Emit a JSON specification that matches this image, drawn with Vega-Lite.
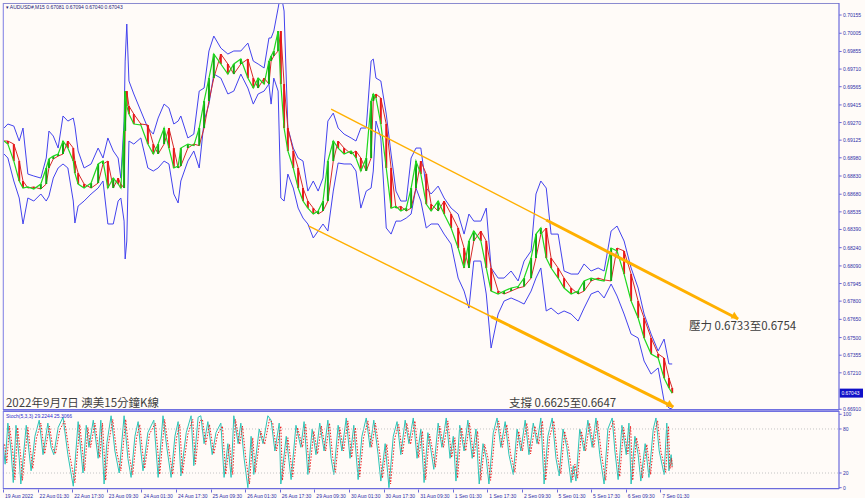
{
  "$schema": "https://vega.github.io/schema/vega-lite/v6.json",
  "background": "#FFFBF8",
  "padding": {"left": 2, "top": 2, "right": 2, "bottom": 0},
  "bounds": "flush",
  "spacing": 1,
  "config": {
    "view": {"stroke": null, "fill": "#FFFBF8"},
    "axis": {"labelFont": "Liberation Sans", "labelFontSize": 5, "labelColor": "#2e2ea8", "tickColor": "#6b6bdc", "domainColor": "#6b6bdc", "tickSize": 3, "labelPadding": 1.5, "grid": false},
    "text": {"font": "Liberation Sans"}
  },
  "datasets": {
    "one": [{"a": 1}],
    "price": [
      {"i":2,"o":0.69118,"c":0.69118,"u":0.69225,"l":0.69011},
      {"i":9,"o":0.69118,"c":0.69093,"u":0.69258,"l":0.68978},
      {"i":20,"o":0.69093,"c":0.68953,"u":0.69241,"l":0.68789},
      {"i":30,"o":0.68953,"c":0.68789,"u":0.69118,"l":0.68649},
      {"i":37,"o":0.68789,"c":0.68731,"u":0.69225,"l":0.68435},
      {"i":46,"o":0.68731,"c":0.68740,"u":0.68846,"l":0.68649},
      {"i":57,"o":0.68740,"c":0.68723,"u":0.68830,"l":0.68624},
      {"i":70,"o":0.68723,"c":0.68764,"u":0.68813,"l":0.68682},
      {"i":80,"o":0.68764,"c":0.68896,"u":0.68978,"l":0.68624},
      {"i":85,"o":0.68896,"c":0.68970,"u":0.69200,"l":0.68665},
      {"i":93,"o":0.68970,"c":0.68994,"u":0.69159,"l":0.68813},
      {"i":102,"o":0.68994,"c":0.69011,"u":0.69060,"l":0.68896},
      {"i":111,"o":0.69011,"c":0.69118,"u":0.69324,"l":0.68929},
      {"i":120,"o":0.69118,"c":0.69060,"u":0.69282,"l":0.68896},
      {"i":130,"o":0.69060,"c":0.68953,"u":0.69307,"l":0.68624},
      {"i":133,"o":0.68953,"c":0.68854,"u":0.69241,"l":0.68443},
      {"i":139,"o":0.68854,"c":0.68764,"u":0.69036,"l":0.68583},
      {"i":150,"o":0.68764,"c":0.68731,"u":0.68896,"l":0.68624},
      {"i":163,"o":0.68731,"c":0.68772,"u":0.68929,"l":0.68682},
      {"i":176,"o":0.68772,"c":0.68929,"u":0.69060,"l":0.68731},
      {"i":185,"o":0.68929,"c":0.68953,"u":0.68978,"l":0.68789},
      {"i":194,"o":0.68953,"c":0.68731,"u":0.69143,"l":0.68435},
      {"i":204,"o":0.68731,"c":0.68813,"u":0.69036,"l":0.68435},
      {"i":213,"o":0.68813,"c":0.68764,"u":0.68978,"l":0.68624},
      {"i":218,"o":0.68764,"c":0.68731,"u":0.68813,"l":0.68649},
      {"i":224,"o":0.68731,"c":0.69200,"u":0.69282,"l":0.68459},
      {"i":226,"o":0.69200,"c":0.69529,"u":0.69776,"l":0.68147},
      {"i":229,"o":0.69529,"c":0.69406,"u":0.70081,"l":0.68295},
      {"i":233,"o":0.69406,"c":0.69340,"u":0.69612,"l":0.69118},
      {"i":242,"o":0.69340,"c":0.69258,"u":0.69505,"l":0.69093},
      {"i":255,"o":0.69258,"c":0.69250,"u":0.69365,"l":0.69143},
      {"i":268,"o":0.69250,"c":0.69093,"u":0.69225,"l":0.68896},
      {"i":278,"o":0.69093,"c":0.69011,"u":0.69175,"l":0.68871},
      {"i":287,"o":0.69011,"c":0.69093,"u":0.69307,"l":0.68896},
      {"i":298,"o":0.69093,"c":0.69225,"u":0.69422,"l":0.68953},
      {"i":307,"o":0.69225,"c":0.69060,"u":0.69389,"l":0.68929},
      {"i":316,"o":0.69060,"c":0.68896,"u":0.69258,"l":0.68682},
      {"i":324,"o":0.68896,"c":0.68912,"u":0.69282,"l":0.68608},
      {"i":329,"o":0.68912,"c":0.69060,"u":0.69324,"l":0.68789},
      {"i":342,"o":0.69060,"c":0.69093,"u":0.69143,"l":0.68953},
      {"i":353,"o":0.69093,"c":0.69080,"u":0.69175,"l":0.69036},
      {"i":363,"o":0.69080,"c":0.69225,"u":0.69529,"l":0.68896},
      {"i":372,"o":0.69225,"c":0.69447,"u":0.69554,"l":0.69282},
      {"i":381,"o":0.69447,"c":0.69636,"u":0.69859,"l":0.69422},
      {"i":390,"o":0.69636,"c":0.69834,"u":0.69982,"l":0.69669},
      {"i":403,"o":0.69834,"c":0.69752,"u":0.69883,"l":0.69636},
      {"i":416,"o":0.69752,"c":0.69669,"u":0.69834,"l":0.69505},
      {"i":427,"o":0.69669,"c":0.69752,"u":0.69859,"l":0.69529},
      {"i":440,"o":0.69752,"c":0.69793,"u":0.69859,"l":0.69669},
      {"i":453,"o":0.69793,"c":0.69636,"u":0.69924,"l":0.69554},
      {"i":463,"o":0.69636,"c":0.69554,"u":0.69776,"l":0.69422},
      {"i":472,"o":0.69554,"c":0.69636,"u":0.69752,"l":0.69505},
      {"i":483,"o":0.69636,"c":0.69587,"u":0.69719,"l":0.69529},
      {"i":492,"o":0.69587,"c":0.69776,"u":0.69966,"l":0.69587},
      {"i":496,"o":0.69776,"c":0.69817,"u":0.69966,"l":0.69422},
      {"i":501,"o":0.69817,"c":0.69859,"u":0.70023,"l":0.69636},
      {"i":509,"o":0.69859,"c":0.70023,"u":0.70212,"l":0.69529},
      {"i":514,"o":0.70023,"c":0.69587,"u":0.70336,"l":0.68649},
      {"i":520,"o":0.69587,"c":0.69225,"u":0.70188,"l":0.68624},
      {"i":527,"o":0.69225,"c":0.69036,"u":0.69225,"l":0.68846},
      {"i":537,"o":0.69036,"c":0.68896,"u":0.69060,"l":0.68731},
      {"i":546,"o":0.68896,"c":0.68731,"u":0.68978,"l":0.68566},
      {"i":555,"o":0.68731,"c":0.68624,"u":0.68953,"l":0.68484},
      {"i":564,"o":0.68624,"c":0.68566,"u":0.68706,"l":0.68435},
      {"i":574,"o":0.68566,"c":0.68517,"u":0.68789,"l":0.68320},
      {"i":583,"o":0.68517,"c":0.68542,"u":0.68706,"l":0.68377},
      {"i":592,"o":0.68542,"c":0.68624,"u":0.68813,"l":0.68435},
      {"i":601,"o":0.68624,"c":0.68953,"u":0.69282,"l":0.68377},
      {"i":611,"o":0.68953,"c":0.69118,"u":0.69348,"l":0.68706},
      {"i":620,"o":0.69118,"c":0.69060,"u":0.69225,"l":0.68937},
      {"i":631,"o":0.69060,"c":0.69011,"u":0.69175,"l":0.68929},
      {"i":644,"o":0.69011,"c":0.69036,"u":0.69143,"l":0.68929},
      {"i":653,"o":0.69036,"c":0.68978,"u":0.69118,"l":0.68871},
      {"i":662,"o":0.68978,"c":0.68871,"u":0.69225,"l":0.68566},
      {"i":672,"o":0.68871,"c":0.68978,"u":0.69225,"l":0.68706},
      {"i":681,"o":0.68978,"c":0.69447,"u":0.69776,"l":0.68731},
      {"i":685,"o":0.69447,"c":0.69505,"u":0.69793,"l":0.68871},
      {"i":690,"o":0.69505,"c":0.69472,"u":0.69636,"l":0.69282},
      {"i":699,"o":0.69472,"c":0.69258,"u":0.69612,"l":0.69143},
      {"i":709,"o":0.69258,"c":0.68896,"u":0.69340,"l":0.68402},
      {"i":718,"o":0.68896,"c":0.68566,"u":0.69011,"l":0.68352},
      {"i":727,"o":0.68566,"c":0.68580,"u":0.68706,"l":0.68459},
      {"i":736,"o":0.68580,"c":0.68542,"u":0.68624,"l":0.68459},
      {"i":746,"o":0.68542,"c":0.68566,"u":0.68624,"l":0.68484},
      {"i":755,"o":0.68566,"c":0.68731,"u":0.68978,"l":0.68517},
      {"i":764,"o":0.68731,"c":0.68953,"u":0.69060,"l":0.68731},
      {"i":773,"o":0.68953,"c":0.68846,"u":0.69060,"l":0.68624},
      {"i":783,"o":0.68846,"c":0.68599,"u":0.68731,"l":0.68402},
      {"i":792,"o":0.68599,"c":0.68542,"u":0.68682,"l":0.68435},
      {"i":805,"o":0.68542,"c":0.68624,"u":0.68747,"l":0.68435},
      {"i":816,"o":0.68624,"c":0.68517,"u":0.68649,"l":0.68352},
      {"i":829,"o":0.68517,"c":0.68402,"u":0.68566,"l":0.68270},
      {"i":842,"o":0.68402,"c":0.68237,"u":0.68517,"l":0.67990},
      {"i":853,"o":0.68237,"c":0.68073,"u":0.68352,"l":0.67883},
      {"i":862,"o":0.68073,"c":0.68295,"u":0.68517,"l":0.67743},
      {"i":871,"o":0.68295,"c":0.68377,"u":0.68459,"l":0.68130},
      {"i":884,"o":0.68377,"c":0.68295,"u":0.68459,"l":0.68130},
      {"i":894,"o":0.68295,"c":0.68073,"u":0.68566,"l":0.67859},
      {"i":903,"o":0.68073,"c":0.67883,"u":0.68073,"l":0.67414},
      {"i":916,"o":0.67883,"c":0.67859,"u":0.67990,"l":0.67694},
      {"i":927,"o":0.67859,"c":0.67883,"u":0.67990,"l":0.67801},
      {"i":940,"o":0.67883,"c":0.67908,"u":0.68048,"l":0.67826},
      {"i":953,"o":0.67908,"c":0.67920,"u":0.67966,"l":0.67801},
      {"i":964,"o":0.67920,"c":0.67990,"u":0.68130,"l":0.67776},
      {"i":977,"o":0.67990,"c":0.68155,"u":0.68213,"l":0.67883},
      {"i":986,"o":0.68155,"c":0.68352,"u":0.68682,"l":0.67990},
      {"i":995,"o":0.68352,"c":0.68402,"u":0.68789,"l":0.68073},
      {"i":1005,"o":0.68402,"c":0.68155,"u":0.68731,"l":0.67719},
      {"i":1014,"o":0.68155,"c":0.68073,"u":0.68352,"l":0.67743},
      {"i":1027,"o":0.68073,"c":0.67990,"u":0.68352,"l":0.67694},
      {"i":1038,"o":0.67990,"c":0.67908,"u":0.68048,"l":0.67719},
      {"i":1051,"o":0.67908,"c":0.67859,"u":0.68023,"l":0.67694},
      {"i":1064,"o":0.67859,"c":0.67883,"u":0.68023,"l":0.67636},
      {"i":1075,"o":0.67883,"c":0.67966,"u":0.68106,"l":0.67743},
      {"i":1088,"o":0.67966,"c":0.67990,"u":0.68048,"l":0.67859},
      {"i":1101,"o":0.67990,"c":0.67975,"u":0.68073,"l":0.67883},
      {"i":1112,"o":0.67975,"c":0.67966,"u":0.68048,"l":0.67826},
      {"i":1125,"o":0.67966,"c":0.68237,"u":0.68377,"l":0.67941},
      {"i":1136,"o":0.68237,"c":0.68213,"u":0.68418,"l":0.67842},
      {"i":1149,"o":0.68213,"c":0.68023,"u":0.68295,"l":0.67694},
      {"i":1162,"o":0.68023,"c":0.67801,"u":0.68073,"l":0.67529},
      {"i":1175,"o":0.67801,"c":0.67661,"u":0.67908,"l":0.67497},
      {"i":1186,"o":0.67661,"c":0.67497,"u":0.67694,"l":0.67307},
      {"i":1199,"o":0.67497,"c":0.67365,"u":0.67529,"l":0.67200},
      {"i":1212,"o":0.67365,"c":0.67332,"u":0.67390,"l":0.67250},
      {"i":1223,"o":0.67332,"c":0.67167,"u":0.67488,"l":0.66978},
      {"i":1232,"o":0.67167,"c":0.67085,"u":0.67283,"l":0.66920},
      {"i":1238,"o":0.67085,"c":0.67043,"u":0.67283,"l":0.66912}
    ],
    "priceTicks": [
      {"p":0.70155},{"p":0.70005},{"p":0.69855},{"p":0.69710},{"p":0.69565},{"p":0.69415},{"p":0.69270},{"p":0.69125},
      {"p":0.68980},{"p":0.68830},{"p":0.68680},{"p":0.68535},{"p":0.68390},{"p":0.68240},{"p":0.68090},{"p":0.67945},
      {"p":0.67800},{"p":0.67650},{"p":0.67500},{"p":0.67355},{"p":0.67210},{"p":0.66910}
    ],
    "stochTicks": [{"v":0},{"v":20},{"v":80},{"v":100}],
    "trend": [
      {"g":"up","i":607,"p":0.69381},{"g":"up","i":1360,"p":0.67653},
      {"g":"lo","i":566,"p":0.68418},{"g":"lo","i":1240,"p":0.66929}
    ],
    "trendThick": [
      {"g":"up","i":1005,"p":0.68468},{"g":"up","i":1360,"p":0.67653},
      {"g":"lo","i":903,"p":0.67673},{"g":"lo","i":1240,"p":0.66929}
    ],
    "stoch": [
      {"i":0,"k":60,"di":3,"d":59},{"i":4,"k":32,"di":7,"d":34},{"i":9,"k":88,"di":12,"d":84},{"i":15,"k":50,"di":18,"d":50},
      {"i":19,"k":7,"di":22,"d":11},{"i":24,"k":85,"di":27,"d":82},{"i":30,"k":40,"di":33,"d":41},{"i":33,"k":5,"di":36,"d":10},
      {"i":43,"k":85,"di":46,"d":82},{"i":48,"k":50,"di":51,"d":50},{"i":52,"k":23,"di":55,"d":26},{"i":59,"k":70,"di":62,"d":68},
      {"i":67,"k":92,"di":70,"d":88},{"i":74,"k":45,"di":77,"d":46},{"i":83,"k":88,"di":86,"d":84},{"i":89,"k":55,"di":92,"d":55},
      {"i":94,"k":45,"di":97,"d":46},{"i":102,"k":82,"di":105,"d":79},{"i":111,"k":96,"di":114,"d":91},{"i":120,"k":45,"di":123,"d":46},
      {"i":130,"k":2,"di":133,"d":7},{"i":139,"k":90,"di":142,"d":86},{"i":144,"k":50,"di":147,"d":50},{"i":148,"k":20,"di":151,"d":23},
      {"i":154,"k":85,"di":157,"d":82},{"i":159,"k":55,"di":162,"d":55},{"i":167,"k":92,"di":170,"d":88},{"i":176,"k":40,"di":179,"d":41},
      {"i":181,"k":92,"di":184,"d":88},{"i":187,"k":5,"di":190,"d":10},{"i":192,"k":60,"di":195,"d":59},{"i":200,"k":98,"di":203,"d":93},
      {"i":207,"k":50,"di":210,"d":50},{"i":215,"k":20,"di":218,"d":23},{"i":224,"k":98,"di":227,"d":93},{"i":231,"k":40,"di":234,"d":41},
      {"i":237,"k":14,"di":240,"d":18},{"i":244,"k":70,"di":247,"d":68},{"i":250,"k":90,"di":253,"d":86},{"i":255,"k":50,"di":258,"d":50},
      {"i":259,"k":23,"di":262,"d":26},{"i":268,"k":75,"di":271,"d":73},{"i":279,"k":92,"di":282,"d":88},{"i":287,"k":14,"di":290,"d":18},
      {"i":296,"k":98,"di":299,"d":93},{"i":303,"k":55,"di":306,"d":55},{"i":311,"k":14,"di":314,"d":18},{"i":318,"k":70,"di":321,"d":68},
      {"i":324,"k":90,"di":327,"d":86},{"i":329,"k":16,"di":332,"d":19},{"i":339,"k":75,"di":342,"d":73},{"i":348,"k":98,"di":351,"d":93},
      {"i":353,"k":30,"di":356,"d":32},{"i":361,"k":96,"di":364,"d":91},{"i":366,"k":98,"di":369,"d":93},{"i":372,"k":60,"di":375,"d":59},
      {"i":379,"k":90,"di":382,"d":86},{"i":387,"k":45,"di":390,"d":46},{"i":394,"k":75,"di":397,"d":73},{"i":403,"k":88,"di":406,"d":84},
      {"i":409,"k":14,"di":412,"d":18},{"i":416,"k":60,"di":419,"d":59},{"i":422,"k":14,"di":425,"d":18},{"i":427,"k":98,"di":430,"d":93},
      {"i":435,"k":60,"di":438,"d":59},{"i":440,"k":88,"di":443,"d":84},{"i":446,"k":40,"di":449,"d":41},{"i":453,"k":0,"di":456,"d":5},
      {"i":459,"k":70,"di":462,"d":68},{"i":464,"k":18,"di":467,"d":21},{"i":474,"k":80,"di":477,"d":77},{"i":481,"k":60,"di":484,"d":59},
      {"i":490,"k":98,"di":493,"d":93},{"i":496,"k":92,"di":499,"d":88},{"i":503,"k":50,"di":506,"d":50},{"i":511,"k":88,"di":514,"d":84},
      {"i":514,"k":5,"di":517,"d":10},{"i":524,"k":70,"di":527,"d":68},{"i":533,"k":11,"di":536,"d":15},{"i":542,"k":85,"di":545,"d":82},
      {"i":551,"k":55,"di":554,"d":55},{"i":557,"k":90,"di":560,"d":86},{"i":564,"k":18,"di":567,"d":21},{"i":572,"k":80,"di":575,"d":77},
      {"i":579,"k":45,"di":582,"d":46},{"i":586,"k":88,"di":589,"d":84},{"i":594,"k":50,"di":597,"d":50},{"i":601,"k":92,"di":604,"d":88},
      {"i":607,"k":40,"di":610,"d":41},{"i":612,"k":18,"di":615,"d":21},{"i":620,"k":85,"di":623,"d":82},{"i":627,"k":50,"di":630,"d":50},
      {"i":635,"k":95,"di":638,"d":91},{"i":642,"k":40,"di":645,"d":41},{"i":649,"k":85,"di":652,"d":82},{"i":657,"k":11,"di":660,"d":15},
      {"i":664,"k":70,"di":667,"d":68},{"i":672,"k":95,"di":675,"d":91},{"i":679,"k":55,"di":682,"d":55},{"i":686,"k":92,"di":689,"d":88},
      {"i":694,"k":45,"di":697,"d":46},{"i":699,"k":9,"di":702,"d":13},{"i":707,"k":60,"di":710,"d":59},{"i":714,"k":0,"di":717,"d":5},
      {"i":722,"k":70,"di":725,"d":68},{"i":729,"k":90,"di":732,"d":86},{"i":736,"k":45,"di":739,"d":46},{"i":744,"k":92,"di":747,"d":88},
      {"i":751,"k":60,"di":754,"d":59},{"i":759,"k":95,"di":762,"d":91},{"i":766,"k":40,"di":769,"d":41},{"i":773,"k":80,"di":776,"d":77},
      {"i":779,"k":7,"di":782,"d":11},{"i":786,"k":75,"di":789,"d":73},{"i":792,"k":50,"di":795,"d":50},{"i":797,"k":25,"di":800,"d":28},
      {"i":805,"k":88,"di":808,"d":84},{"i":812,"k":55,"di":815,"d":55},{"i":820,"k":95,"di":823,"d":91},{"i":827,"k":40,"di":830,"d":41},
      {"i":833,"k":70,"di":836,"d":68},{"i":838,"k":9,"di":841,"d":13},{"i":845,"k":85,"di":848,"d":82},{"i":853,"k":50,"di":856,"d":50},
      {"i":860,"k":92,"di":863,"d":88},{"i":868,"k":40,"di":871,"d":41},{"i":875,"k":80,"di":878,"d":77},{"i":881,"k":5,"di":884,"d":10},
      {"i":888,"k":60,"di":891,"d":59},{"i":894,"k":40,"di":897,"d":41},{"i":899,"k":5,"di":902,"d":10},{"i":907,"k":75,"di":910,"d":73},
      {"i":914,"k":95,"di":917,"d":91},{"i":921,"k":55,"di":924,"d":55},{"i":929,"k":90,"di":932,"d":86},{"i":936,"k":45,"di":939,"d":46},
      {"i":944,"k":18,"di":947,"d":21},{"i":951,"k":80,"di":954,"d":77},{"i":958,"k":50,"di":961,"d":50},{"i":966,"k":92,"di":969,"d":88},
      {"i":973,"k":45,"di":976,"d":46},{"i":981,"k":88,"di":984,"d":84},{"i":988,"k":60,"di":991,"d":59},{"i":995,"k":95,"di":998,"d":91},
      {"i":1001,"k":5,"di":1004,"d":10},{"i":1008,"k":70,"di":1011,"d":68},{"i":1016,"k":95,"di":1019,"d":91},{"i":1023,"k":40,"di":1026,"d":41},
      {"i":1029,"k":16,"di":1032,"d":19},{"i":1036,"k":80,"di":1039,"d":77},{"i":1043,"k":55,"di":1046,"d":55},{"i":1051,"k":7,"di":1054,"d":11},
      {"i":1055,"k":30,"di":1058,"d":32},{"i":1060,"k":9,"di":1063,"d":13},{"i":1067,"k":80,"di":1070,"d":77},{"i":1075,"k":50,"di":1078,"d":50},
      {"i":1082,"k":92,"di":1085,"d":88},{"i":1090,"k":55,"di":1093,"d":55},{"i":1097,"k":95,"di":1100,"d":91},{"i":1104,"k":45,"di":1107,"d":46},
      {"i":1112,"k":5,"di":1115,"d":10},{"i":1119,"k":80,"di":1122,"d":77},{"i":1127,"k":95,"di":1130,"d":91},{"i":1132,"k":50,"di":1135,"d":50},
      {"i":1138,"k":11,"di":1141,"d":15},{"i":1145,"k":85,"di":1148,"d":82},{"i":1153,"k":45,"di":1156,"d":46},{"i":1158,"k":88,"di":1161,"d":84},
      {"i":1162,"k":5,"di":1165,"d":10},{"i":1169,"k":70,"di":1172,"d":68},{"i":1175,"k":45,"di":1178,"d":46},{"i":1180,"k":9,"di":1183,"d":13},
      {"i":1188,"k":60,"di":1191,"d":59},{"i":1195,"k":14,"di":1198,"d":18},{"i":1203,"k":80,"di":1206,"d":77},{"i":1208,"k":95,"di":1211,"d":91},
      {"i":1214,"k":50,"di":1217,"d":50},{"i":1223,"k":18,"di":1226,"d":21},{"i":1228,"k":88,"di":1231,"d":84},{"i":1232,"k":23,"di":1234,"d":26},
      {"i":1236,"k":45,"di":1237,"d":40},{"i":1238,"k":29.2244,"di":1238,"d":25.3066}
    ]
  },
  "vconcat": [
    {
      "width": 860,
      "height": 407,
      "layer": [
        {
          "data": {"name": "price"},
          "mark": {"type": "line", "color": "#4343ee", "strokeWidth": 1, "clip": true},
          "encoding": {
            "x": {"field": "i", "type": "quantitative", "title": null, "scale": {"domain": [0, 1591], "nice": false, "zero": false}, "axis": null},
            "y": {"field": "u", "type": "quantitative", "title": null, "scale": {"domain": [0.66904, 0.70254], "nice": false, "zero": false}, "axis": null}
          }
        },
        {
          "data": {"name": "price"},
          "mark": {"type": "line", "color": "#4343ee", "strokeWidth": 1, "clip": true},
          "encoding": {
            "x": {"field": "i", "type": "quantitative", "title": null},
            "y": {"field": "l", "type": "quantitative", "title": null}
          }
        },
        {
          "data": {"name": "price"},
          "mark": {"type": "line", "color": "#d62a2a", "strokeWidth": 1, "clip": true},
          "encoding": {
            "x": {"field": "i", "type": "quantitative", "title": null},
            "y": {"field": "o", "type": "quantitative", "title": null}
          }
        },
        {
          "data": {"name": "price"},
          "mark": {"type": "rule", "strokeWidth": 2, "clip": true},
          "encoding": {
            "x": {"field": "i", "type": "quantitative", "title": null},
            "y": {"field": "o", "type": "quantitative", "title": null},
            "y2": {"field": "c"},
            "color": {"condition": {"test": "datum.c < datum.o", "value": "#e81818"}, "value": "#12a812"}
          }
        },
        {
          "data": {"name": "price"},
          "mark": {"type": "line", "color": "#1fd81f", "strokeWidth": 1.2, "clip": true},
          "encoding": {
            "x": {"field": "i", "type": "quantitative", "title": null},
            "y": {"field": "c", "type": "quantitative", "title": null}
          }
        },
        {
          "data": {"name": "trend"},
          "mark": {"type": "line", "color": "#FFB000", "strokeWidth": 1.4},
          "encoding": {
            "x": {"field": "i", "type": "quantitative", "title": null},
            "y": {"field": "p", "type": "quantitative", "title": null},
            "detail": {"field": "g"}
          }
        },
        {
          "data": {"name": "trendThick"},
          "mark": {"type": "line", "color": "#FFB000", "strokeWidth": 3},
          "encoding": {
            "x": {"field": "i", "type": "quantitative", "title": null},
            "y": {"field": "p", "type": "quantitative", "title": null},
            "detail": {"field": "g"}
          }
        },
        {
          "data": {"values": [{"g":"up","i":1355,"p":0.67672},{"g":"lo","i":1235,"p":0.66946}]},
          "mark": {"type": "point", "shape": "triangle-right", "filled": true, "opacity": 1, "size": 60, "angle": 27, "color": "#FFB000", "clip": true},
          "encoding": {
            "x": {"field": "i", "type": "quantitative", "title": null},
            "y": {"field": "p", "type": "quantitative", "title": null}
          }
        },
        {
          "data": {"values": [
            {"i": 5.5, "p": 0.66953, "t": "2022年9月7日 澳美15分鐘K線"},
            {"i": 1269, "p": 0.67587, "t": "壓力 0.6733至0.6754"},
            {"i": 936, "p": 0.66953, "t": "支撐 0.6625至0.6647"}
          ]},
          "mark": {"type": "text", "align": "left", "baseline": "middle", "font": "Noto Sans CJK TC", "fontSize": 11.5, "color": "#3d3d3d"},
          "encoding": {
            "x": {"field": "i", "type": "quantitative", "title": null},
            "y": {"field": "p", "type": "quantitative", "title": null},
            "text": {"field": "t"}
          }
        },
        {
          "data": {"values": [{"i": 5, "p": 0.70221, "t": "▾ AUDUSD#,M15  0.67081 0.67094 0.67040 0.67043"}]},
          "mark": {"type": "text", "align": "left", "baseline": "middle", "fontSize": 5, "color": "#1e1e78"},
          "encoding": {
            "x": {"field": "i", "type": "quantitative", "title": null},
            "y": {"field": "p", "type": "quantitative", "title": null},
            "text": {"field": "t"}
          }
        },
        {
          "data": {"name": "one"},
          "mark": {"type": "rule", "color": "#7c7ce4", "strokeWidth": 1},
          "encoding": {"x": {"datum": 0.5}, "y": {"datum": 0.66904}, "y2": {"datum": 0.70254}}
        },
        {
          "data": {"name": "one"},
          "mark": {"type": "rule", "color": "#8a8ad0", "strokeWidth": 1},
          "encoding": {"x": {"datum": 0}, "x2": {"datum": 1546.6}, "y": {"datum": 0.70250}}
        },
        {
          "data": {"name": "one"},
          "mark": {"type": "rule", "color": "#6b6bdc", "strokeWidth": 1.2},
          "encoding": {"x": {"datum": 1546.6}, "y": {"datum": 0.66904}, "y2": {"datum": 0.70254}}
        },
        {
          "data": {"name": "one"},
          "mark": {"type": "rule", "color": "#7070e0", "strokeWidth": 1.5},
          "encoding": {"x": {"datum": 0}, "x2": {"datum": 1546.6}, "y": {"datum": 0.66906}}
        },
        {
          "data": {"name": "priceTicks"},
          "mark": {"type": "rule", "color": "#6b6bdc", "strokeWidth": 1},
          "encoding": {"x": {"datum": 1546.6}, "x2": {"datum": 1551.5}, "y": {"field": "p", "type": "quantitative", "title": null}}
        },
        {
          "data": {"name": "priceTicks"},
          "mark": {"type": "text", "align": "left", "baseline": "middle", "fontSize": 5, "color": "#2e2ea8"},
          "encoding": {
            "x": {"datum": 1554},
            "y": {"field": "p", "type": "quantitative", "title": null},
            "text": {"field": "p", "type": "quantitative", "format": ".5f"}
          }
        },
        {
          "data": {"name": "one"},
          "mark": {"type": "rect", "color": "#1010c8"},
          "encoding": {
            "x": {"datum": 1548},
            "x2": {"datum": 1591},
            "y": {"datum": 0.67080},
            "y2": {"datum": 0.67006}
          }
        },
        {
          "data": {"values": [{"p": 0.67043, "t": "0.67043"}]},
          "mark": {"type": "text", "align": "left", "baseline": "middle", "fontSize": 5, "color": "#ffffff"},
          "encoding": {
            "x": {"datum": 1551},
            "y": {"field": "p", "type": "quantitative", "title": null},
            "text": {"field": "t"}
          }
        }
      ]
    },
    {
      "width": 860,
      "height": 78,
      "layer": [
        {
          "data": {"name": "stoch"},
          "mark": {"type": "line", "color": "#2ec4b6", "strokeWidth": 1, "clip": true},
          "encoding": {
            "x": {"field": "i", "type": "quantitative", "title": null, "scale": {"domain": [0, 1591], "nice": false, "zero": false},
              "axis": {"title": null, "domain": false, "labelOverlap": false, "values": [0,64,128,192,256,320,384,448,512,576,640,704,768,832,896,960,1024,1088,1152,1216],
                "labelAlign": "left", "labelBaseline": "top", "labelOffset": 1.5, "labelPadding": 1, "labelFlush": false,
                "labelExpr": "['19 Aug 2022','22 Aug 01:30','22 Aug 17:30','23 Aug 09:30','24 Aug 01:30','24 Aug 17:30','25 Aug 09:30','26 Aug 01:30','26 Aug 17:30','29 Aug 09:30','30 Aug 01:30','30 Aug 17:30','31 Aug 09:30','1 Sep 01:30','1 Sep 17:30','2 Sep 09:30','5 Sep 01:30','5 Sep 17:30','6 Sep 09:30','7 Sep 01:30'][round(datum.value/64)]"}},
            "y": {"field": "k", "type": "quantitative", "title": null, "scale": {"domain": [-1.8, 104.5], "nice": false, "zero": false}, "axis": null}
          }
        },
        {
          "data": {"values": [{"v": 20}, {"v": 80}]},
          "mark": {"type": "rule", "color": "#c4c4c4", "strokeDash": [1, 2], "strokeWidth": 1},
          "encoding": {
            "x": {"datum": 0},
            "x2": {"datum": 1546.6},
            "y": {"field": "v", "type": "quantitative", "title": null}
          }
        },
        {
          "data": {"name": "stoch"},
          "mark": {"type": "line", "color": "#ee2020", "strokeWidth": 1, "strokeDash": [1.5, 1.5], "clip": true},
          "encoding": {
            "x": {"field": "di", "type": "quantitative", "title": null},
            "y": {"field": "d", "type": "quantitative", "title": null}
          }
        },
        {
          "data": {"values": [{"i": 5.5, "v": 97.5, "t": "Stoch(5,3,3) 29.2244 25.3066"}]},
          "mark": {"type": "text", "align": "left", "baseline": "middle", "fontSize": 5, "color": "#2b2bd0"},
          "encoding": {
            "x": {"field": "i", "type": "quantitative", "title": null},
            "y": {"field": "v", "type": "quantitative", "title": null},
            "text": {"field": "t"}
          }
        },
        {
          "data": {"name": "one"},
          "mark": {"type": "rule", "color": "#7070e0", "strokeWidth": 1.5},
          "encoding": {"x": {"datum": 0}, "x2": {"datum": 1546.6}, "y": {"datum": 104.0}}
        },
        {
          "data": {"name": "one"},
          "mark": {"type": "rule", "color": "#7c7ce4", "strokeWidth": 1},
          "encoding": {"x": {"datum": 0.5}, "y": {"datum": -1.8}, "y2": {"datum": 104.5}}
        },
        {
          "data": {"name": "one"},
          "mark": {"type": "rule", "color": "#6b6bdc", "strokeWidth": 1.2},
          "encoding": {"x": {"datum": 1546.6}, "y": {"datum": -1.8}, "y2": {"datum": 104.5}}
        },
        {
          "data": {"name": "one"},
          "mark": {"type": "rule", "color": "#6b6bdc", "strokeWidth": 1.2},
          "encoding": {"x": {"datum": 0}, "x2": {"datum": 1546.6}, "y": {"datum": -1.2}}
        },
        {
          "data": {"name": "stochTicks"},
          "mark": {"type": "rule", "color": "#6b6bdc", "strokeWidth": 1},
          "encoding": {"x": {"datum": 1546.6}, "x2": {"datum": 1551.5}, "y": {"field": "v", "type": "quantitative", "title": null}}
        },
        {
          "data": {"name": "stochTicks"},
          "mark": {"type": "text", "align": "left", "baseline": "middle", "fontSize": 5, "color": "#2e2ea8"},
          "encoding": {
            "x": {"datum": 1554},
            "y": {"field": "v", "type": "quantitative", "title": null},
            "text": {"field": "v", "type": "quantitative", "format": "d"}
          }
        }
      ]
    }
  ]
}
